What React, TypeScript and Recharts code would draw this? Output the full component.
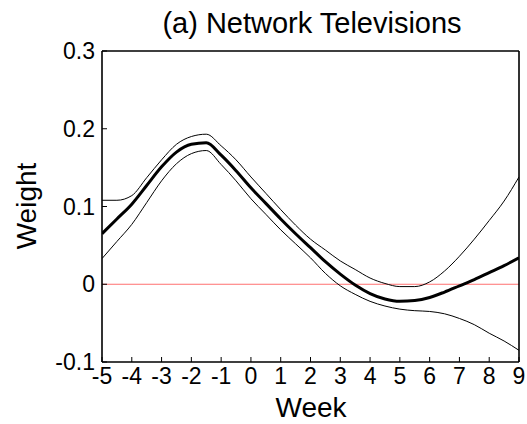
import React from 'react';
import { LineChart, Line, XAxis, YAxis, ReferenceLine } from 'recharts';

const weeks = [-5, -4.5, -4, -3.5, -3, -2.5, -2, -1.5, -1, -0.5, 0, 0.5, 1, 1.5, 2, 2.5, 3, 3.5, 4, 4.5, 5, 5.5, 6, 6.5, 7, 7.5, 8, 8.5, 9];
const weightMean = [0.065, 0.084, 0.103, 0.127, 0.151, 0.170, 0.180, 0.182, 0.166, 0.146, 0.124, 0.104, 0.084, 0.065, 0.047, 0.029, 0.013, -0.001, -0.012, -0.019, -0.022, -0.021, -0.017, -0.010, -0.002, 0.006, 0.015, 0.024, 0.034];
const weightUpper = [0.108, 0.108, 0.114, 0.137, 0.160, 0.180, 0.190, 0.193, 0.178, 0.160, 0.138, 0.117, 0.096, 0.076, 0.058, 0.044, 0.030, 0.019, 0.008, 0.001, -0.003, -0.003, 0.003, 0.017, 0.036, 0.058, 0.082, 0.107, 0.138];
const weightLower = [0.033, 0.055, 0.077, 0.105, 0.133, 0.155, 0.168, 0.172, 0.154, 0.133, 0.110, 0.090, 0.070, 0.052, 0.034, 0.014, -0.002, -0.013, -0.022, -0.028, -0.032, -0.034, -0.035, -0.038, -0.044, -0.052, -0.063, -0.073, -0.085];

const xTicks = [-5, -4, -3, -2, -1, 0, 1, 2, 3, 4, 5, 6, 7, 8, 9];
const yTicks = [-0.1, 0, 0.1, 0.2, 0.3];

const font = '"Liberation Sans", Arial, sans-serif';

export default function App() {
  const data = weeks.map((w, i) => ({
    week: w,
    mean: weightMean[i],
    upper: weightUpper[i],
    lower: weightLower[i],
  }));

  const tickStyle = { fontSize: 23, fill: '#000', fontFamily: font };
  const xMin = xTicks[0];
  const xMax = xTicks[xTicks.length - 1];
  const yMin = yTicks[0];
  const yMax = yTicks[yTicks.length - 1];

  return (
    <div style={{ position: 'absolute', left: 0, top: 0, width: 527, height: 424, background: '#fff', fontFamily: font }}>
      <div style={{ position: 'absolute', left: 0, width: 624, top: 7, textAlign: 'center', fontSize: 29, lineHeight: '32px' }}>
        (a) Network Televisions
      </div>
      <div style={{ position: 'absolute', left: 27, top: 206, fontSize: 28, lineHeight: '30px', transform: 'translate(-50%, -50%) rotate(-90deg)', whiteSpace: 'nowrap' }}>
        Weight
      </div>
      <div style={{ position: 'absolute', left: 0, width: 622, top: 392, textAlign: 'center', fontSize: 28, lineHeight: '32px' }}>
        Week
      </div>
      <LineChart width={527} height={424} data={data} margin={{ top: 50, right: 7, left: 0, bottom: 0 }} style={{ position: 'absolute', left: 0, top: 0 }}>
        <XAxis
          dataKey="week"
          type="number"
          domain={[xMin, xMax]}
          ticks={xTicks}
          height={62}
          stroke="#000"
          tickSize={-5}
          tickMargin={11}
          tick={tickStyle}
          interval={0}
          allowDataOverflow
        />
        <XAxis xAxisId="top" dataKey="week" orientation="top" type="number" domain={[xMin, xMax]} ticks={xTicks} height={1} stroke="#000" tickSize={-5} tick={false} interval={0} />
        <YAxis
          yAxisId="left"
          type="number"
          domain={[yMin, yMax]}
          ticks={yTicks}
          width={102}
          stroke="#000"
          tickSize={-5}
          tickMargin={12}
          tick={tickStyle}
          interval={0}
          tickFormatter={(v: number) => String(Math.round(v * 10) / 10)}
          allowDataOverflow
        />
        <YAxis yAxisId="right" orientation="right" type="number" domain={[yMin, yMax]} ticks={yTicks} width={1} stroke="#000" tickSize={-5} tick={false} interval={0} />
        <ReferenceLine yAxisId="left" y={0} stroke="#ff7070" strokeWidth={1} />
        <ReferenceLine yAxisId="left" y={yMax} stroke="#000" strokeWidth={1.2} />
        <ReferenceLine yAxisId="left" y={yMin} stroke="#000" strokeWidth={1.2} />
        <ReferenceLine yAxisId="left" x={xMin} stroke="#000" strokeWidth={1.2} />
        <ReferenceLine yAxisId="left" x={xMax} stroke="#000" strokeWidth={1.2} />
        <Line xAxisId="top" yAxisId="right" type="monotone" dataKey="mean" stroke="none" dot={false} activeDot={false} isAnimationActive={false} />
        <Line yAxisId="left" type="monotone" dataKey="upper" stroke="#000" strokeWidth={1} dot={false} isAnimationActive={false} />
        <Line yAxisId="left" type="monotone" dataKey="lower" stroke="#000" strokeWidth={1} dot={false} isAnimationActive={false} />
        <Line yAxisId="left" type="monotone" dataKey="mean" stroke="#000" strokeWidth={3} dot={false} isAnimationActive={false} />
      </LineChart>
    </div>
  );
}
